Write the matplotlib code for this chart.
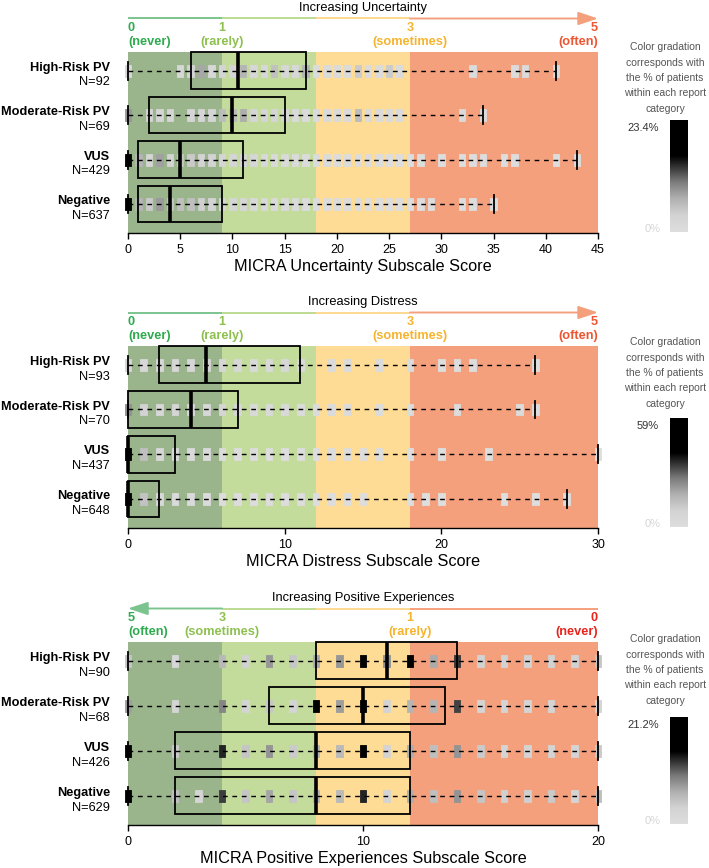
import matplotlib.pyplot as plt
import numpy as np
from matplotlib.colors import LinearSegmentedColormap
from matplotlib.patches import Rectangle

plt.rcParams["font.family"] = ["Liberation Sans", "DejaVu Sans"]

groups = ["High-Risk PV", "Moderate-Risk PV", "VUS", "Negative"]

# --- Uncertainty subscale ---
unc_n = [92, 69, 429, 637]
unc_box = [(6, 10.5, 17), (2, 10, 15), (1, 5, 11), (1, 4, 9)]
unc_range = [(0, 41), (0, 34), (0, 43), (0, 35)]
unc_scores = [
    [0, 5, 6, 7, 8, 9, 10, 11, 12, 13, 14, 15, 16, 17, 18, 19, 20, 21, 22, 23, 24, 25, 26, 33, 37, 38, 41],
    [0, 2, 3, 4, 6, 7, 8, 9, 10, 11, 12, 13, 14, 15, 16, 17, 18, 19, 20, 21, 22, 23, 24, 25, 26, 32, 34],
    list(range(0, 29)) + [30, 32, 33, 34, 36, 37, 41, 43],
    list(range(0, 30)) + [32, 33, 35],
]
unc_pct = [
    [2.2, 2.2, 3.3, 7.6, 2.2, 3.3, 3.3, 6.5, 2.2, 2.2, 5.4, 2.2, 2.2, 6.5, 1.1, 1.1, 1.1, 1.1, 4.3, 1.1, 1.1, 4.3, 1.1, 1.1, 1.1, 1.1, 1.1],
    [8.7, 2.9, 2.9, 2.9, 2.9, 2.9, 2.9, 5.8, 5.8, 7.2, 2.9, 2.9, 2.9, 2.9, 1.4, 1.4, 1.4, 1.4, 1.4, 1.4, 5.8, 1.4, 1.4, 1.4, 1.4, 1.4, 1.4],
    [18.0, 6.5, 3.0, 8.0, 3.5, 5.0, 4.5, 3.5, 3.5, 3.0, 3.0, 3.0, 2.5, 2.0, 1.5, 1.5, 1.2, 1.0, 1.0, 1.0, 0.8, 0.8, 0.7, 0.7, 0.6, 0.5, 0.5, 0.5, 0.4,
     0.3, 0.3, 0.3, 0.3, 0.3, 0.3, 0.3, 0.3],
    [23.4, 6.5, 4.5, 8.5, 5.0, 5.5, 5.5, 4.0, 3.5, 3.0, 3.0, 2.5, 2.0, 2.0, 1.5, 1.5, 1.2, 1.0, 1.0, 0.8, 0.7, 0.6, 0.6, 0.5, 0.5, 0.4, 0.4, 0.3, 0.3,
     0.3, 0.2, 0.2, 0.2],
]
unc_bands = [0, 9, 18, 27, 45]
unc_ticks = [0, 5, 10, 15, 20, 25, 30, 35, 40, 45]
unc_scale = [(0, "0", "(never)"), (9, "1", "(rarely)"), (27, "3", "(sometimes)"), (45, "5", "(often)")]

# --- Distress subscale ---
dis_n = [93, 70, 437, 648]
dis_box = [(2, 5, 11), (0, 4, 7), (0, 0, 3), (0, 0, 2)]
dis_range = [(0, 26), (0, 26), (0, 30), (0, 28)]
dis_scores = [
    list(range(0, 12)) + [13, 14, 16, 18, 20, 21, 22, 26],
    list(range(0, 15)) + [16, 18, 21, 25, 26],
    list(range(0, 17)) + [18, 20, 23, 30],
    list(range(0, 16)) + [18, 19, 20, 24, 26, 28],
]
dis_pct = [
    [6.5, 5.4, 5.4, 6.5, 6.5, 6.5, 6.5, 5.4, 4.3, 4.3, 5.4, 4.3, 2.2, 2.2, 2.2, 2.2, 1.1, 1.1, 1.1, 1.1],
    [22.9, 8.6, 5.7, 7.1, 5.7, 5.7, 7.1, 5.7, 4.3, 4.3, 4.3, 2.9, 2.9, 2.9, 2.9, 1.4, 1.4, 1.4, 1.4, 1.4],
    [50.0, 14.0, 6.0, 4.5, 4.0, 3.0, 2.5, 2.0, 1.5, 1.2, 1.0, 1.0, 0.8, 0.8, 0.6, 0.5, 0.5, 0.4, 0.3, 0.3, 0.3],
    [59.0, 13.0, 5.0, 3.5, 3.0, 2.5, 2.0, 1.5, 1.2, 1.0, 0.8, 0.8, 0.6, 0.6, 0.5, 0.5, 0.3, 0.3, 0.3, 0.3, 0.3, 0.3],
]
dis_bands = [0, 6, 12, 18, 30]
dis_ticks = [0, 10, 20, 30]
dis_scale = [(0, "0", "(never)"), (6, "1", "(rarely)"), (18, "3", "(sometimes)"), (30, "5", "(often)")]

# --- Positive experiences subscale ---
pos_n = [90, 68, 426, 629]
pos_box = [(8, 11, 14), (6, 10, 13.5), (2, 8, 12), (2, 8, 12)]
pos_range = [(0, 20), (0, 20), (0, 20), (0, 20)]
pos_scores = [
    [0, 2, 4, 5, 6, 7, 8, 9, 10, 11, 12, 13, 14, 15, 16, 17, 18, 19, 20],
    [0, 2, 4, 5, 6, 7, 8, 9, 10, 11, 12, 13, 14, 15, 16, 17, 18, 20],
    [0, 2, 4, 5, 6, 7, 8, 9, 10, 11, 12, 13, 14, 15, 16, 17, 18, 19, 20],
    [0, 2, 3, 4, 5, 6, 7, 8, 9, 10, 11, 12, 13, 14, 15, 16, 17, 18, 19, 20],
]
pos_pct = [
    [4.4, 2.2, 5.6, 3.3, 7.8, 4.4, 6.7, 7.8, 16.7, 8.0, 16.7, 6.7, 12.2, 3.3, 3.3, 3.3, 3.3, 3.3, 4.4],
    [7.4, 2.9, 8.8, 2.9, 4.4, 2.9, 16.2, 7.4, 16.2, 2.9, 5.9, 5.9, 11.8, 2.9, 2.9, 2.9, 2.9, 2.9],
    [21.2, 4.0, 13.0, 4.5, 8.0, 4.0, 6.0, 5.5, 16.0, 3.0, 6.5, 5.0, 8.0, 4.0, 3.0, 3.0, 3.0, 3.0, 4.0],
    [20.5, 5.0, 2.5, 12.0, 4.5, 7.0, 4.5, 6.0, 5.5, 13.0, 3.0, 6.5, 5.0, 8.0, 4.5, 3.5, 3.5, 4.0, 3.0, 5.0],
]
pos_bands = [0, 4, 8, 12, 20]
pos_ticks = [0, 10, 20]
pos_scale = [(0, "5", "(often)"), (4, "3", "(sometimes)"), (12, "1", "(rarely)"), (20, "0", "(never)")]

band_colors = ["#9ab48b", "#c4dc9b", "#fedc95", "#f4a07d"]
line_colors = ["#7cc48f", "#bcdb92", "#fdd890", "#f4a07d"]
scale_colors_up = ["#2faa4f", "#8dc04f", "#f6b42e", "#ee5531"]
scale_colors_down = ["#2faa4f", "#8dc04f", "#f6b42e", "#e8241d"]

gray_cmap = LinearSegmentedColormap.from_list(
    "pct", [(0, "#dedede"), (0.15, "#d3d3d3"), (0.3, "#b0b0b0"), (0.45, "#7a7a7a"),
            (0.6, "#2a2a2a"), (0.68, "#000000"), (1, "#000000")])

W, H = 709, 868
fig = plt.figure(figsize=(W / 100, H / 100), dpi=100)

rect_marker = [(-0.27, -0.5), (0.27, -0.5), (0.27, 0.5), (-0.27, 0.5), (-0.27, -0.5)]
row_y = [3, 2, 1, 0]


def draw_panel(top, bottom, cb_top, txt_top, title, xlabel, n, box, rng, scores, pct,
               bands, ticks, scale, scale_colors, max_label, arrow_left=False):
    ax = fig.add_axes([128 / W, 1 - bottom / H, 470 / W, (bottom - top) / H])
    xmax = bands[-1]
    ax.set_xlim(0, xmax)
    ax.set_ylim(-0.65, 3.42)
    for i in range(4):
        ax.axvspan(bands[i], bands[i + 1], color=band_colors[i], lw=0, zorder=0)

    vmax = max(max(p) for p in pct)
    for k in range(4):
        y = row_y[k]
        cols = gray_cmap(np.array(pct[k]) / vmax)
        ax.scatter(scores[k], [y] * len(scores[k]), s=72, marker=rect_marker, c=cols,
                   linewidths=0.6, edgecolors=cols, zorder=2, clip_on=False)
        lo, hi = rng[k]
        ax.plot([lo, hi], [y, y], color="black", lw=1.0, ls=(0, (3.4, 3.4)), zorder=3)
        for v in (lo, hi):
            ax.plot([v, v], [y - 0.2, y + 0.2], color="black", lw=1.3, zorder=5,
                    clip_on=False)
        q1, med, q3 = box[k]
        ax.add_patch(Rectangle((q1, y - 0.41), q3 - q1, 0.82, fill=False, ec="black",
                               lw=1.3, zorder=4, clip_on=False))
        ax.plot([med, med], [y - 0.41, y + 0.41], color="black", lw=2.6, zorder=5,
                solid_capstyle="butt", clip_on=False)
        ax.annotate(groups[k], xy=(0, y), xycoords=("axes fraction", "data"),
                    xytext=(-13, 2), textcoords="offset points", ha="right", va="center",
                    fontsize=9.2, fontweight="bold")
        ax.annotate(f"N={n[k]}", xy=(0, y), xycoords=("axes fraction", "data"),
                    xytext=(-13, -8.5), textcoords="offset points", ha="right", va="center",
                    fontsize=9.2)

    for s in ("left", "top", "right"):
        ax.spines[s].set_visible(False)
    ax.spines["bottom"].set_linewidth(1.0)
    ax.set_yticks([])
    ax.set_xticks(ticks)
    ax.tick_params(axis="x", labelsize=9, length=4, width=1, pad=4)
    ax.set_xlabel(xlabel, fontsize=11.7, labelpad=2)

    # scale labels
    has = ["left", "center", "center", "right"]
    for i, (v, num, word) in enumerate(scale):
        ax.annotate(num, xy=(v, 1), xycoords=("data", "axes fraction"), xytext=(0, 17),
                    textcoords="offset points", ha=has[i], va="center", fontsize=9.2,
                    fontweight="bold", color=scale_colors[i])
        ax.annotate(word, xy=(v, 1), xycoords=("data", "axes fraction"), xytext=(0, 7),
                    textcoords="offset points", ha=has[i], va="center", fontsize=9.2,
                    fontweight="bold", color=scale_colors[i])

    # arrow line
    hpx = bottom - top
    ya = 1 + 33.5 / hpx
    trans = ax.get_xaxis_transform()
    for i in range(4):
        a, b = bands[i], bands[i + 1]
        if arrow_left and i == 0:
            ax.annotate("", xy=(a, ya), xytext=(b, ya), xycoords=trans,
                        arrowprops=dict(arrowstyle="-|>,head_length=1.2,head_width=0.4",
                                        color=line_colors[i], lw=1.4, mutation_scale=10,
                                        shrinkA=0, shrinkB=0))
        elif not arrow_left and i == 3:
            ax.annotate("", xy=(b, ya), xytext=(a, ya), xycoords=trans,
                        arrowprops=dict(arrowstyle="-|>,head_length=1.2,head_width=0.4",
                                        color=line_colors[i], lw=1.4, mutation_scale=10,
                                        shrinkA=0, shrinkB=0))
        else:
            ax.plot([a, b], [ya, ya], color=line_colors[i], lw=1.4, transform=trans,
                    clip_on=False, solid_capstyle="butt")
    ax.text(0.5, 1 + 43.5 / hpx, title, transform=ax.transAxes, ha="center", va="center",
            fontsize=9.3)

    # colour bar
    cax = fig.add_axes([670 / W, 1 - bottom / H + 1 / H, 18 / W, (bottom - cb_top) / H])
    grad = np.linspace(1, 0, 256).reshape(-1, 1)
    cax.imshow(grad, aspect="auto", cmap=gray_cmap, vmin=0, vmax=1)
    cax.set_axis_off()
    lines = ["Color gradation", "corresponds with", "the % of patients",
             "within each report", "category"]
    for j, line in enumerate(lines):
        fig.text(665 / W, 1 - (txt_top + 15.5 * j) / H, line, ha="center", va="center",
                 fontsize=7.5, color="#555555")
    fig.text(659 / W, 1 - (cb_top + 7) / H, max_label, ha="right", va="center",
             fontsize=8, color="#333333")
    fig.text(661 / W, 1 - (bottom - 4) / H, "0%", ha="right", va="center",
             fontsize=8, color="#d6d6d6")
    return ax


draw_panel(52, 233, 121, 47, "Increasing Uncertainty", "MICRA Uncertainty Subscale Score",
           unc_n, unc_box, unc_range, unc_scores, unc_pct, unc_bands, unc_ticks, unc_scale,
           scale_colors_up, "23.4%")
draw_panel(346, 528, 419, 342, "Increasing Distress", "MICRA Distress Subscale Score",
           dis_n, dis_box, dis_range, dis_scores, dis_pct, dis_bands, dis_ticks, dis_scale,
           scale_colors_up, "59%")
draw_panel(642, 825, 718, 639, "Increasing Positive Experiences",
           "MICRA Positive Experiences Subscale Score",
           pos_n, pos_box, pos_range, pos_scores, pos_pct, pos_bands, pos_ticks, pos_scale,
           scale_colors_down, "21.2%", arrow_left=True)

fig.savefig("out.png", dpi=100)
